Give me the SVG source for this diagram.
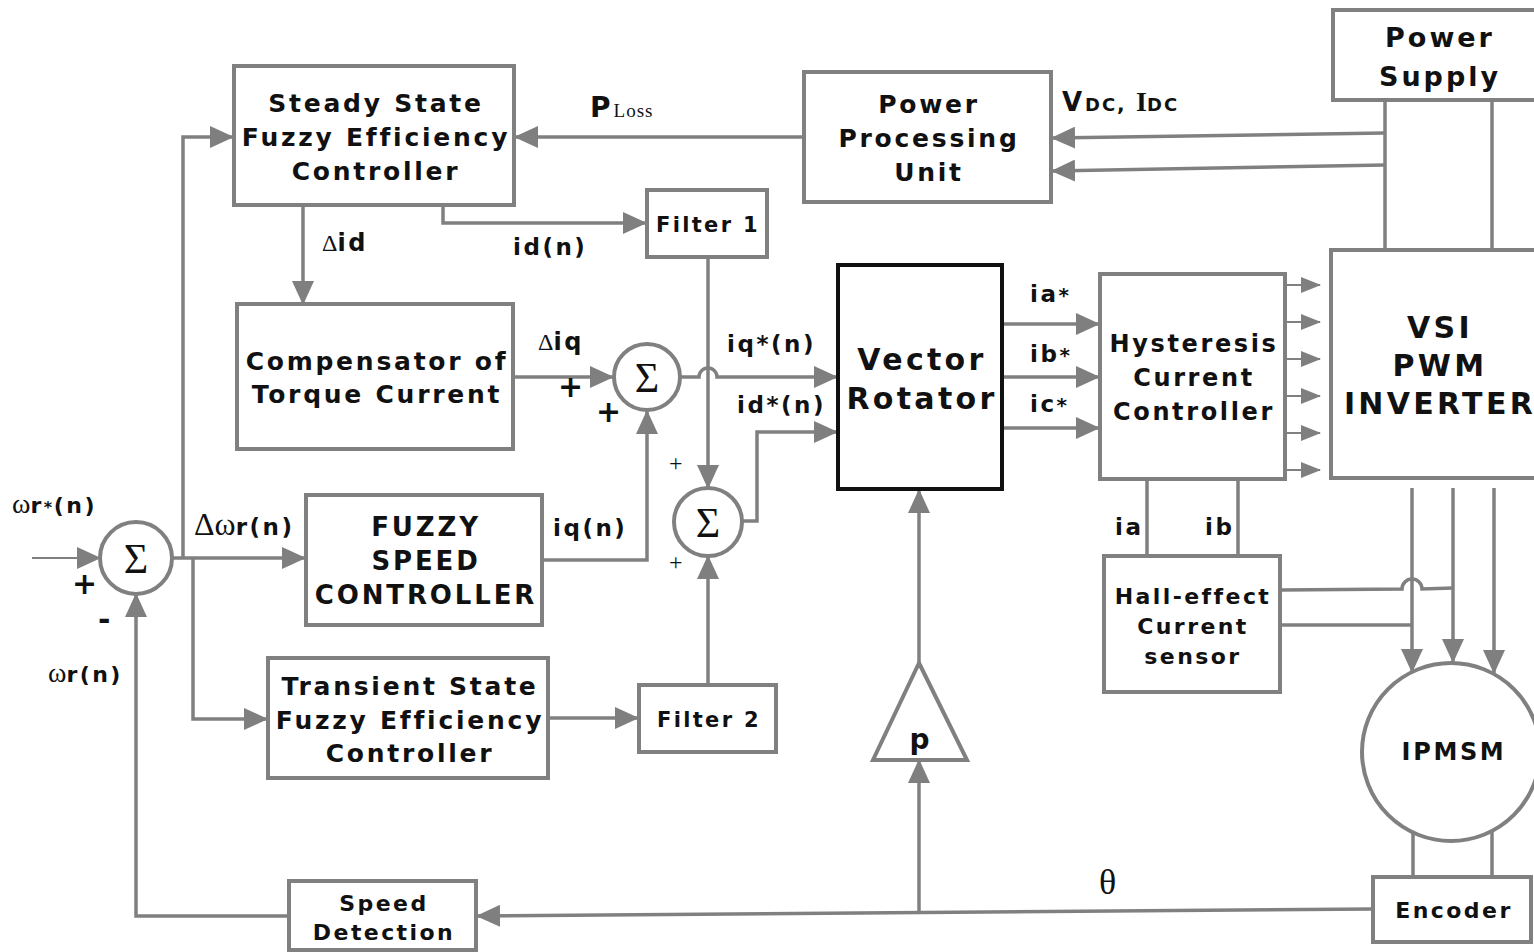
<svg xmlns="http://www.w3.org/2000/svg" width="1534" height="952" viewBox="0 0 1534 952">
<defs>
<marker id="ah" markerUnits="userSpaceOnUse" markerWidth="24" markerHeight="22" refX="23" refY="11" orient="auto"><path d="M0,0 L24,11 L0,22 z" fill="#7f7f7f"/></marker>
<marker id="as" markerUnits="userSpaceOnUse" markerWidth="20" markerHeight="16" refX="19" refY="8" orient="auto"><path d="M0,0 L20,8 L0,16 z" fill="#7f7f7f"/></marker>
<style>
.box{fill:#fff;stroke:#808080;stroke-width:4}
.bk{fill:#fff;stroke:#111;stroke-width:4}
.ln{fill:none;stroke:#808080;stroke-width:3.5}
.th{fill:none;stroke:#808080;stroke-width:2}
.t{font-family:"DejaVu Sans",Verdana,sans-serif;font-weight:bold;fill:#111;text-anchor:middle;letter-spacing:0.11em}
.l{font-family:"DejaVu Sans",Verdana,sans-serif;font-weight:bold;fill:#111;letter-spacing:0.11em}
.s{font-family:"Liberation Serif","Times New Roman",serif;fill:#111}
</style>
</defs>
<g id="connectors">
<path class="ln" d="M803,137 L515,137" marker-end="url(#ah)"/>
<path class="ln" d="M1385,133 L1052,138" marker-end="url(#ah)"/>
<path class="ln" d="M1385,165 L1052,171" marker-end="url(#ah)"/>
<path class="ln" d="M1385,100 L1385,250 M1492,100 L1492,250"/>
<path class="ln" d="M443,205 L443,223 L646,223" marker-end="url(#ah)"/>
<path class="ln" d="M303,205 L303,304" marker-end="url(#ah)"/>
<path class="ln" d="M513,377 L613,377" marker-end="url(#ah)"/>
<path class="ln" d="M681,377 L699,377 A9,9 0 0 1 717,377 L837,377" marker-end="url(#ah)"/>
<path class="ln" d="M708,257 L708,488" marker-end="url(#ah)"/>
<path class="ln" d="M742,521 L757,521 L757,432 L837,432" marker-end="url(#ah)"/>
<path class="ln" d="M542,560 L647,560 L647,411" marker-end="url(#ah)"/>
<path class="th" d="M32,558 L100,558" marker-end="url(#ah)"/>
<path class="ln" d="M172,558 L305,558" marker-end="url(#ah)"/>
<path class="ln" d="M183,558 L183,137 L233,137" marker-end="url(#ah)"/>
<path class="ln" d="M193,558 L193,719 L267,719" marker-end="url(#ah)"/>
<path class="ln" d="M548,718 L638,718" marker-end="url(#ah)"/>
<path class="ln" d="M708,684 L708,556" marker-end="url(#ah)"/>
<path class="ln" d="M1002,324 L1099,324" marker-end="url(#ah)"/>
<path class="ln" d="M1002,377 L1099,377" marker-end="url(#ah)"/>
<path class="ln" d="M1002,428 L1099,428" marker-end="url(#ah)"/>
<path class="th" d="M1285,285 L1320,285" marker-end="url(#as)"/>
<path class="th" d="M1285,322 L1320,322" marker-end="url(#as)"/>
<path class="th" d="M1285,359 L1320,359" marker-end="url(#as)"/>
<path class="th" d="M1285,396 L1320,396" marker-end="url(#as)"/>
<path class="th" d="M1285,433 L1320,433" marker-end="url(#as)"/>
<path class="th" d="M1285,470 L1320,470" marker-end="url(#as)"/>
<path class="ln" d="M1147,479 L1147,556 M1238,479 L1238,556"/>
<path class="ln" d="M1412,488 L1412,672" marker-end="url(#ah)"/>
<path class="ln" d="M1453,488 L1453,662" marker-end="url(#ah)"/>
<path class="ln" d="M1494,488 L1494,673" marker-end="url(#ah)"/>
<path class="ln" d="M1281,590 L1402,589 A10,10 0 0 1 1422,589 L1453,588"/>
<path class="ln" d="M1281,625 L1412,625"/>
<path class="ln" d="M1413,831 L1413,877 M1492,830 L1492,877"/>
<path class="ln" d="M1373,909 L477,916" marker-end="url(#ah)"/>
<path class="ln" d="M919,912 L919,760" marker-end="url(#ah)"/>
<path class="ln" d="M919,663 L919,490" marker-end="url(#ah)"/>
<path class="ln" d="M289,916 L136,916 L136,594" marker-end="url(#ah)"/>
</g>
<g id="steady-fec"><rect class="box" x="234" y="66" width="280" height="139"/>
<text class="t" font-size="25" x="376" y="112">Steady State</text><text class="t" font-size="25" x="376" y="146">Fuzzy Efficiency</text><text class="t" font-size="25" x="376" y="180">Controller</text></g>
<g id="ppu"><rect class="box" x="804" y="72" width="247" height="130"/>
<text class="t" font-size="25" x="929" y="113">Power</text><text class="t" font-size="25" x="929" y="147">Processing</text><text class="t" font-size="25" x="929" y="181">Unit</text></g>
<g id="power-supply"><rect class="box" x="1333" y="10" width="210" height="90"/>
<text class="t" font-size="27" x="1440" y="47">Power</text><text class="t" font-size="27" x="1440" y="86">Supply</text></g>
<g id="filter1"><rect class="box" x="647" y="190" width="120" height="67"/><text class="t" font-size="21" x="708" y="232">Filter 1</text></g>
<g id="compensator"><rect class="box" x="237" y="304" width="276" height="145"/>
<text class="t" font-size="25" x="377" y="370">Compensator of</text><text class="t" font-size="25" x="377" y="403">Torque Current</text></g>
<g id="sum1"><circle class="box" cx="647" cy="377" r="33" stroke-width="3.5"/><text class="s" font-size="42" x="647" y="392" text-anchor="middle">Σ</text></g>
<g id="sum2"><circle class="box" cx="708" cy="522" r="34" stroke-width="3.5"/><text class="s" font-size="42" x="708" y="537" text-anchor="middle">Σ</text></g>
<g id="sum0"><circle class="box" cx="136" cy="558" r="36" stroke-width="3.5"/><text class="s" font-size="42" x="136" y="573" text-anchor="middle">Σ</text></g>
<g id="vector-rotator"><rect class="bk" x="838" y="265" width="164" height="224"/>
<text class="t" font-size="30" x="922" y="370">Vector</text><text class="t" font-size="30" x="922" y="409">Rotator</text></g>
<g id="hysteresis"><rect class="box" x="1100" y="274" width="185" height="205"/>
<text class="t" font-size="24" x="1194" y="352" letter-spacing="0.13em">Hysteresis</text><text class="t" font-size="24" x="1194" y="386" letter-spacing="0.13em">Current</text><text class="t" font-size="24" x="1194" y="420" letter-spacing="0.13em">Controller</text></g>
<g id="vsi"><rect class="box" x="1331" y="250" width="210" height="228"/>
<text class="t" font-size="30" x="1440" y="338" letter-spacing="0.13em">VSI</text><text class="t" font-size="30" x="1440" y="376" letter-spacing="0.13em">PWM</text><text class="t" font-size="30" x="1440" y="414" letter-spacing="0.13em">INVERTER</text></g>
<g id="fuzzy-speed"><rect class="box" x="306" y="495" width="236" height="130"/>
<text class="t" font-size="26" x="426" y="536">FUZZY</text><text class="t" font-size="26" x="426" y="570">SPEED</text><text class="t" font-size="26" x="426" y="604">CONTROLLER</text></g>
<g id="transient-fec"><rect class="box" x="268" y="658" width="280" height="120"/>
<text class="t" font-size="25" x="410" y="695">Transient State</text><text class="t" font-size="25" x="410" y="729">Fuzzy Efficiency</text><text class="t" font-size="25" x="410" y="762">Controller</text></g>
<g id="filter2"><rect class="box" x="639" y="685" width="137" height="67"/><text class="t" font-size="21" x="709" y="727">Filter 2</text></g>
<g id="gain-p"><path class="box" d="M919,663 L967,760 L873,760 z"/><text class="t" font-size="28" x="921" y="749">p</text></g>
<g id="hall"><rect class="box" x="1104" y="556" width="176" height="136"/>
<text class="t" font-size="22" x="1193" y="604">Hall-effect</text><text class="t" font-size="22" x="1193" y="634">Current</text><text class="t" font-size="22" x="1193" y="664">sensor</text></g>
<g id="ipmsm"><circle class="box" cx="1451" cy="752" r="89"/><text class="t" font-size="24" x="1454" y="760" letter-spacing="0.16em">IPMSM</text></g>
<g id="encoder"><rect class="box" x="1373" y="877" width="158" height="65"/><text class="t" font-size="22" x="1454" y="918">Encoder</text></g>
<g id="speed-detection"><rect class="box" x="289" y="881" width="187" height="69"/>
<text class="t" font-size="22" x="384" y="911">Speed</text><text class="t" font-size="22" x="384" y="940">Detection</text></g>
<g id="labels">
<text x="590" y="117"><tspan class="l" font-size="28">P</tspan><tspan class="s" font-size="19" letter-spacing="1">Loss</tspan></text>
<text x="1062" y="111"><tspan class="l" font-size="26">V</tspan><tspan class="l" font-size="18">DC</tspan><tspan class="l" font-size="20">, </tspan><tspan class="s" font-size="28" font-weight="bold">I</tspan><tspan class="l" font-size="18">DC</tspan></text>
<text x="322" y="251"><tspan class="s" font-size="24">Δ</tspan><tspan class="l" font-size="24">id</tspan></text>
<text class="l" font-size="23" x="513" y="255">id(n)</text>
<text x="538" y="350"><tspan class="s" font-size="24">Δ</tspan><tspan class="l" font-size="24">iq</tspan></text>
<text class="l" font-size="23" x="727" y="352">iq*(n)</text>
<text class="l" font-size="23" x="737" y="413">id*(n)</text>
<text class="l" font-size="23" x="553" y="536">iq(n)</text>
<text x="1030" y="302"><tspan class="l" font-size="23">ia</tspan><tspan class="l" font-size="20" fill="#777">*</tspan></text>
<text x="1030" y="362"><tspan class="l" font-size="23">ib</tspan><tspan class="l" font-size="20" fill="#777">*</tspan></text>
<text x="1030" y="412"><tspan class="l" font-size="23">ic</tspan><tspan class="l" font-size="20" fill="#777">*</tspan></text>
<text class="l" font-size="23" x="1115" y="535">ia</text>
<text class="l" font-size="23" x="1205" y="535">ib</text>
<text x="194" y="535"><tspan class="s" font-size="32">Δω</tspan><tspan class="l" font-size="23" letter-spacing="0.16em">r(n)</tspan></text>
<text x="12" y="513"><tspan class="s" font-size="28">ω</tspan><tspan class="l" font-size="22" letter-spacing="0.12em">r</tspan><tspan class="l" font-size="16">*</tspan><tspan class="l" font-size="22" letter-spacing="0.16em">(n)</tspan></text>
<text x="48" y="682"><tspan class="s" font-size="28">ω</tspan><tspan class="l" font-size="22" letter-spacing="0.14em">r(n)</tspan></text>
<text class="s" font-size="36" x="1099" y="894">θ</text>
<text class="l" font-size="30" x="558" y="397">+</text>
<text class="l" font-size="30" x="596" y="422">+</text>
<text class="l" font-size="30" x="72" y="594">+</text>
<text class="l" font-size="30" x="98" y="630">-</text>
<text class="s" font-size="24" x="669" y="471">+</text>
<text class="s" font-size="24" x="669" y="570">+</text>
</g>
</svg>
